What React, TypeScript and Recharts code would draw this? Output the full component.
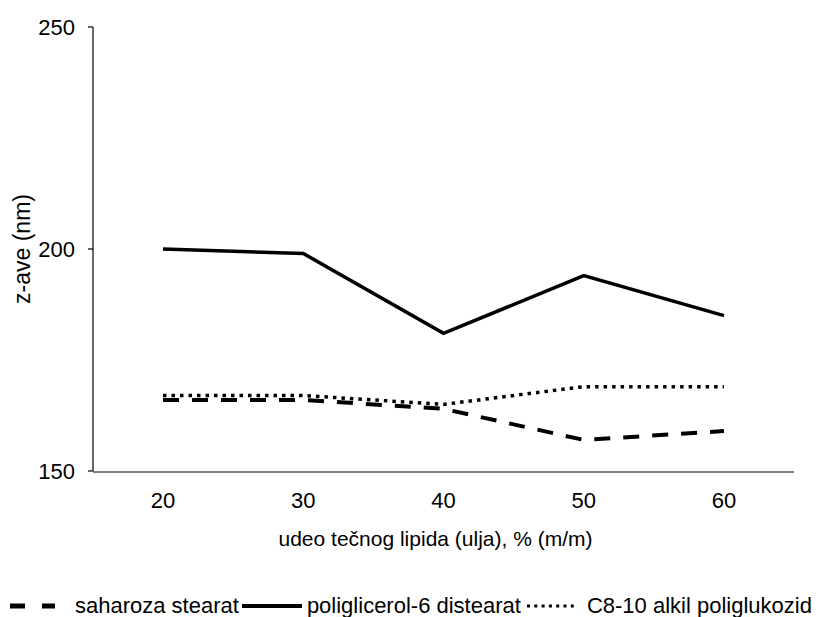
import React from 'react';
import { LineChart, Line, XAxis, YAxis, Legend } from 'recharts';

// Oil content (% m/m) on the x axis
const oilShare = [20, 30, 40, 50, 60];

// z-average particle size (nm) per emulsifier
const saharozaStearat = [166, 166, 164, 157, 159];
const poliglicerolDistearat = [200, 199, 181, 194, 185];
const alkilPoliglukozid = [167, 167, 165, 169, 169];

const yTicks = [150, 200, 250];
// band edges of the five categories
const bandEdges = [0, 1, 2, 3, 4, 5];

const seriesNames = {
  s1: 'saharoza stearat',
  s2: 'poliglicerol-6 distearat',
  s3: 'C8-10 alkil poliglukozid',
};

const data = oilShare.map((x, i) => ({
  x,
  s1: saharozaStearat[i],
  s2: poliglicerolDistearat[i],
  s3: alkilPoliglukozid[i],
}));

const FONT = '"Liberation Sans", Arial, sans-serif';

const swatch = (key: string) => {
  if (key === 's1') {
    return (
      <svg width={45} height={10} style={{ display: 'block' }}>
        <line x1={0} y1={5} x2={45} y2={5} stroke="#000" strokeWidth={5} strokeDasharray="15 17" />
      </svg>
    );
  }
  if (key === 's2') {
    return (
      <svg width={60} height={10} style={{ display: 'block' }}>
        <line x1={0} y1={5} x2={60} y2={5} stroke="#000" strokeWidth={4} />
      </svg>
    );
  }
  return (
    <svg width={50} height={10} style={{ display: 'block' }}>
      <line x1={1} y1={5} x2={50} y2={5} stroke="#000" strokeWidth={3} strokeDasharray="3 4.3" />
    </svg>
  );
};

const itemStyle: Record<string, React.CSSProperties> = {
  s1: { marginLeft: 10 },
  s2: { marginLeft: 3 },
  s3: { marginLeft: 5 },
};
const gapStyle: Record<string, number> = { s1: 20, s2: 5, s3: 11 };

const renderLegend = (props: any) => {
  const payload = [...(props.payload || [])].sort((a: any, b: any) =>
    String(a.dataKey).localeCompare(String(b.dataKey))
  );
  return (
    <div
      style={{
        display: 'flex',
        alignItems: 'center',
        whiteSpace: 'nowrap',
        overflow: 'hidden',
        width: 822,
        fontSize: 22,
        color: '#000',
        fontFamily: FONT,
      }}
    >
      {payload.map((p: any) => (
        <div key={p.dataKey} style={{ display: 'flex', alignItems: 'center', ...itemStyle[p.dataKey] }}>
          {swatch(p.dataKey)}
          <span style={{ marginLeft: gapStyle[p.dataKey] }}>{p.value}</span>
        </div>
      ))}
    </div>
  );
};

const YTitle = (props: any) => {
  const vb = props.viewBox || {};
  const cx = vb.x + 22;
  const cy = vb.y + vb.height / 2;
  return (
    <text
      x={cx}
      y={cy}
      transform={`rotate(-90, ${cx}, ${cy})`}
      textAnchor="middle"
      dominantBaseline="central"
      fontSize={23}
      fill="#000"
      fontFamily={FONT}
    >
      z-ave (nm)
    </text>
  );
};

const XTitle = (props: any) => {
  const vb = props.viewBox || {};
  return (
    <text
      x={vb.x + vb.width / 2 - 8}
      y={vb.y + 75}
      textAnchor="middle"
      fontSize={21}
      fill="#000"
      fontFamily={FONT}
    >
      udeo tečnog lipida (ulja), % (m/m)
    </text>
  );
};

export default function App() {
  return (
    <div style={{ position: 'absolute', left: 0, top: 0, width: 822, height: 617, background: '#fff', fontFamily: FONT }}>
      <LineChart width={822} height={617} data={data} margin={{ top: 27, right: 28, bottom: 144, left: 0 }}>
        <XAxis
          xAxisId="edges"
          type="number"
          domain={[0, 5]}
          allowDataOverflow
          ticks={bandEdges}
          tick={false}
          tickSize={7}
          height={1}
          axisLine={{ stroke: '#000', strokeWidth: 1.2 }}
          tickLine={{ stroke: '#000', strokeWidth: 1.2 }}
        />
        <XAxis
          dataKey="x"
          height={1}
          padding={{ left: 70, right: 70 }}
          axisLine={false}
          tickLine={false}
          tickSize={7}
          tickMargin={14}
          tick={{ fill: '#000', fontSize: 22 }}
          interval={0}
          label={<XTitle />}
        />
        <YAxis
          width={93}
          domain={[150, 250]}
          ticks={yTicks}
          tickSize={5}
          tickMargin={13}
          tick={{ fill: '#000', fontSize: 22 }}
          axisLine={{ stroke: '#000', strokeWidth: 1.2 }}
          tickLine={{ stroke: '#000', strokeWidth: 1.2 }}
          label={<YTitle />}
        />
        <Legend
          verticalAlign="middle"
          content={renderLegend}
          wrapperStyle={{ position: 'absolute', left: 0, top: 593, width: 822, height: 24 }}
        />
        <Line
          dataKey="s1"
          name={seriesNames.s1}
          stroke="#000"
          strokeWidth={4}
          strokeDasharray="16 13"
          dot={false}
          activeDot={false}
          isAnimationActive={false}
        />
        <Line
          dataKey="s2"
          name={seriesNames.s2}
          stroke="#000"
          strokeWidth={3.5}
          dot={false}
          activeDot={false}
          isAnimationActive={false}
        />
        <Line
          dataKey="s3"
          name={seriesNames.s3}
          stroke="#000"
          strokeWidth={3.5}
          strokeDasharray="3.5 5"
          dot={false}
          activeDot={false}
          isAnimationActive={false}
        />
      </LineChart>
    </div>
  );
}
